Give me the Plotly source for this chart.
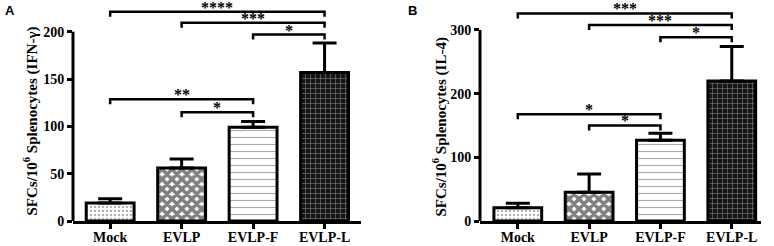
import plotly.graph_objects as go

categories = ["Mock", "EVLP", "EVLP-F", "EVLP-L"]

# Panel A: IFN-gamma
a_values = [19, 56, 99, 157]
a_errors = [4.5, 9.5, 6, 31]
a_brackets = [  # (from, to, height, label)
    (0, 3, 221, "****"),
    (1, 3, 209.5, "***"),
    (2, 3, 197, "*"),
    (0, 2, 128.5, "**"),
    (1, 2, 115, "*"),
]
a_ticks = [0, 50, 100, 150, 200]
a_title = "SFCs/10<sup>6</sup> Splenocytes (IFN-γ)"

# Panel B: IL-4
b_values = [21, 45, 127, 220]
b_errors = [7, 29, 11, 54]
b_brackets = [
    (0, 3, 326, "***"),
    (1, 3, 308, "***"),
    (2, 3, 288.5, "*"),
    (0, 2, 167.5, "*"),
    (1, 2, 150, "*"),
]
b_ticks = [0, 100, 200, 300]
b_title = "SFCs/10<sup>6</sup> Splenocytes (IL-4)"

patterns = [
    dict(shape=".", fgcolor="#666666", bgcolor="white", size=4, solidity=0.3),
    dict(shape="x", fgcolor="black", bgcolor="white", size=7, solidity=0.75),
    dict(shape="-", fgcolor="#555555", bgcolor="white", size=7, solidity=0.16),
    dict(shape="+", fgcolor="#d0d0d0", bgcolor="#151515", size=5, solidity=0.25),
]

FONT = "Liberation Serif"
fig = go.Figure()


def b(s):
    return f"<b>{s}</b>"


def add_panel(values, errors, brackets, xa, ya, drop):
    fig.add_trace(go.Bar(
        x=categories, y=values, xaxis=xa, yaxis=ya, width=0.67,
        marker=dict(color="white", line=dict(color="black", width=3),
                    pattern=dict(shape=[p["shape"] for p in patterns],
                                 fgcolor=[p["fgcolor"] for p in patterns],
                                 bgcolor=[p["bgcolor"] for p in patterns],
                                 size=[p["size"] for p in patterns],
                                 solidity=[p["solidity"] for p in patterns])),
        error_y=dict(type="data", symmetric=False, array=errors,
                     arrayminus=[0] * len(errors), color="black",
                     thickness=3, width=12),
        showlegend=False, hoverinfo="skip",
    ))
    for i0, i1, h, lab in brackets:
        fig.add_trace(go.Scatter(
            x=[categories[i0], categories[i0], categories[i1], categories[i1]],
            y=[h - drop, h, h, h - drop], mode="lines", xaxis=xa, yaxis=ya,
            line=dict(color="black", width=2.5), showlegend=False,
            hoverinfo="skip", cliponaxis=False,
        ))
        fig.add_annotation(
            x=(i0 + i1) / 2, y=h, xref=xa, yref=ya, text=b(lab), showarrow=False,
            yanchor="bottom", yshift=-6,
            font=dict(family=FONT, size=16, color="black"),
        )


add_panel(a_values, a_errors, a_brackets, "x", "y", 5.3)
add_panel(b_values, b_errors, b_brackets, "x2", "y2", 7.9)

tickfont = dict(family=FONT, size=14, color="black")
axis_common = dict(showgrid=False, zeroline=False, ticks="outside", ticklen=5,
                   tickwidth=3, tickcolor="black", tickfont=tickfont,
                   automargin=False, fixedrange=True)

fig.update_layout(
    width=774, height=246, plot_bgcolor="white", paper_bgcolor="white",
    margin=dict(l=0, r=0, t=1, b=25, autoexpand=False),
    xaxis=dict(domain=[73 / 774, 361 / 774], range=[-0.52, 3.51],
               showline=True, linewidth=3, linecolor="black", anchor="y",
               tickvals=categories, ticktext=[b(c) for c in categories],
               ticklabelstandoff=-4, **axis_common),
    yaxis=dict(domain=[0, 1], range=[0, 232.4], tickvals=a_ticks,
               ticktext=[b(v) for v in a_ticks],
               showline=False, anchor="x", **axis_common),
    xaxis2=dict(domain=[480 / 774, 761 / 774], range=[-0.53, 3.41],
                showline=True, linewidth=3, linecolor="black", anchor="y2",
                tickvals=categories, ticktext=[b(c) for c in categories],
                ticklabelstandoff=-4, **axis_common),
    yaxis2=dict(domain=[0, 1], range=[0, 345.5], tickvals=b_ticks,
                ticktext=[b(v) for v in b_ticks],
                showline=False, anchor="x2", **axis_common),
)

# y-axis lines that stop at the top tick
fig.add_shape(type="line", xref="x domain", yref="y", x0=0, x1=0, y0=0, y1=200,
              line=dict(color="black", width=3))
fig.add_shape(type="line", xref="x2 domain", yref="y2", x0=0, x1=0, y0=0, y1=300,
              line=dict(color="black", width=3))

# y-axis titles
titlefont = dict(family=FONT, size=15, color="black")
fig.add_annotation(x=31 / 774, y=(221 - 121.5) / 220, xref="paper", yref="paper",
                   text=b(a_title), textangle=-90, showarrow=False,
                   xanchor="center", yanchor="middle", font=titlefont)
fig.add_annotation(x=440 / 774, y=(221 - 127.5) / 220, xref="paper", yref="paper",
                   text=b(b_title), textangle=-90, showarrow=False,
                   xanchor="center", yanchor="middle", font=titlefont)

fig.add_annotation(x=3 / 774, y=1, xref="paper", yref="paper", text=b("A"),
                   showarrow=False, xanchor="left", yanchor="top",
                   font=dict(family="Liberation Sans", size=13, color="black"))
fig.add_annotation(x=406 / 774, y=1, xref="paper", yref="paper", text=b("B"),
                   showarrow=False, xanchor="left", yanchor="top",
                   font=dict(family="Liberation Sans", size=13, color="black"))

# remove the browser's default 8px page margin so the figure sits at (0, 0)
fig.write_html("out.html", config={"displayModeBar": False},
               post_script="document.body.style.margin='0';")
